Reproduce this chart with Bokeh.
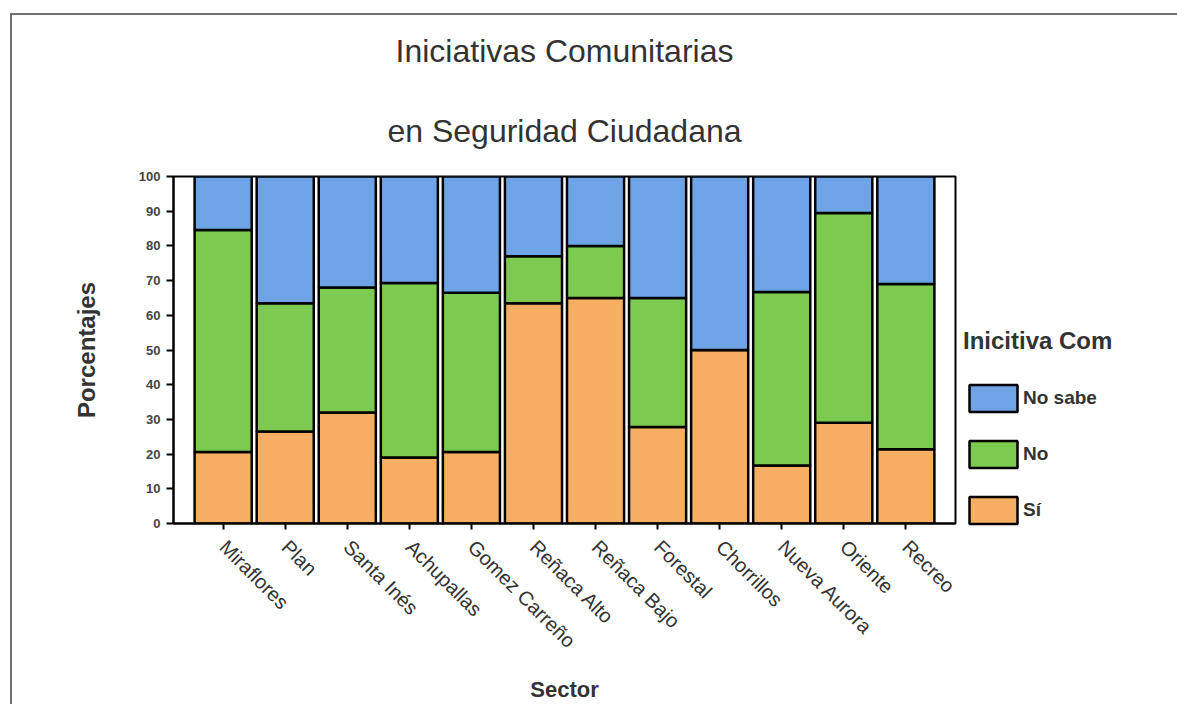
import math
from bokeh.plotting import figure
from bokeh.models import (ColumnDataSource, FactorRange, Range1d, Legend, LegendItem,
                          Title, FixedTicker)
from bokeh.embed import file_html
from bokeh.resources import INLINE

# ---- data ----
sectores = ["Miraflores", "Plan", "Santa Inés", "Achupallas", "Gomez Carreño",
            "Reñaca Alto", "Reñaca Bajo", "Forestal", "Chorrillos", "Nueva Aurora",
            "Oriente", "Recreo"]
si = [20.6, 26.5, 32.0, 19.0, 20.6, 63.5, 65.0, 27.8, 50.0, 16.7, 29.0, 21.4]
no = [64.0, 37.0, 36.0, 50.3, 45.9, 13.5, 15.0, 37.2, 0.0, 50.0, 60.5, 47.6]
no_sabe = [15.4, 36.5, 32.0, 30.7, 33.5, 23.0, 20.0, 35.0, 50.0, 33.3, 10.5, 31.0]
series_keys = ["si", "no", "no_sabe"]
series_labels = ["Sí", "No", "No sabe"]
series_colors = ["#f6ae62", "#7cca4f", "#6ea4e6"]
y_ticks = [0, 10, 20, 30, 40, 50, 60, 70, 80, 90, 100]
title_lines = ["Iniciativas Comunitarias", "en Seguridad Ciudadana"]

FONT = "Liberation Sans"
TXT = "#333333"

source = ColumnDataSource(dict(sector=sectores, si=si, no=no, no_sabe=no_sabe))

p = figure(frame_width=782, frame_height=347,
           x_range=FactorRange(factors=sectores, range_padding=0.05),
           y_range=Range1d(0, 100),
           output_backend="svg", toolbar_location=None, title=None,
           min_border_left=173, min_border_right=213, min_border_top=176,
           min_border_bottom=10)
p.background_fill_color = "white"
p.border_fill_color = "white"
p.border_fill_alpha = 0.0
p.outline_line_color = "black"
p.outline_line_width = 2
p.outline_line_alpha = 1.0
p.xgrid.grid_line_color = None
p.ygrid.grid_line_color = None
# scanned page frame: grey line along the top and the left edge
p.styles = {
    "background": ("linear-gradient(#707070, #707070) 10px 13px / 100% 2px no-repeat, "
                   "linear-gradient(#707070, #707070) 10px 13px / 2px 100% no-repeat, white"),
}

rs = p.vbar_stack(series_keys, x="sector", width=0.92, source=source,
                  fill_color=series_colors, line_color="black", line_width=2.5)

# titles (first added is closest to the frame)
t2 = Title(text=title_lines[1], align="center", text_font=FONT, text_font_size="32px",
           text_font_style="normal", text_color=TXT, standoff=55)
t1 = Title(text=title_lines[0], align="center", text_font=FONT, text_font_size="32px",
           text_font_style="normal", text_color=TXT, standoff=30)
p.add_layout(t2, "above")
p.add_layout(t1, "above")

# y axis
ya = p.yaxis[0]
ya.ticker = FixedTicker(ticks=y_ticks)
ya.minor_tick_line_color = None
ya.major_tick_out = 7
ya.major_tick_in = 0
ya.major_tick_line_width = 2
ya.axis_line_width = 2
ya.axis_line_color = "black"
ya.major_label_text_font = FONT
ya.major_label_text_font_size = "13px"
ya.major_label_text_font_style = "bold"
ya.major_label_text_color = "#444444"
ya.major_label_standoff = 6
ya.axis_label = "Porcentajes"
ya.axis_label_text_font = FONT
ya.axis_label_text_font_size = "24px"
ya.axis_label_text_font_style = "bold"
ya.axis_label_text_color = TXT
ya.axis_label_standoff = 36

# x axis
xa = p.xaxis[0]
xa.major_label_orientation = -math.pi / 4
xa.major_tick_out = 6
xa.major_tick_in = 0
xa.major_tick_line_width = 2
xa.axis_line_width = 2
xa.axis_line_color = "black"
xa.major_label_text_font = FONT
xa.major_label_text_font_size = "20px"
xa.major_label_text_font_style = "normal"
xa.major_label_text_color = TXT
xa.major_label_standoff = 14
xa.axis_label = "Sector"
xa.axis_label_text_font = FONT
xa.axis_label_text_font_size = "22px"
xa.axis_label_text_font_style = "bold"
xa.axis_label_text_color = TXT
xa.axis_label_standoff = 14

# legend (top to bottom: No sabe, No, Sí)
items = [LegendItem(label=series_labels[i], renderers=[rs[i]]) for i in (2, 1, 0)]
legend = Legend(items=items, title="Inicitiva Com", location=(8, -4),
                title_text_font=FONT, title_text_font_size="24px",
                title_text_font_style="bold", title_text_color=TXT, title_standoff=26,
                label_text_font=FONT, label_text_font_size="19px",
                label_text_font_style="bold", label_text_color=TXT,
                glyph_width=60, glyph_height=34, spacing=22, label_standoff=0,
                padding=0, margin=0, border_line_color=None, background_fill_alpha=0)
p.add_layout(legend, "right")

open("out.html", "w").write(file_html(p, INLINE))
